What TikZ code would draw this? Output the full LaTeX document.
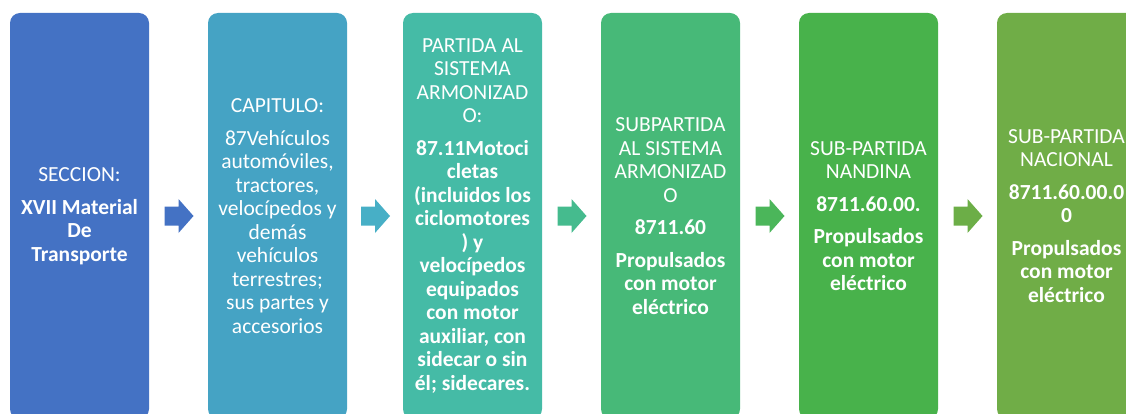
\documentclass[tikz,border=0pt]{standalone}
\usepackage{fontspec}
\setmainfont{Carlito}
\usetikzlibrary{calc}
\definecolor{c1}{HTML}{4472C4}
\definecolor{c2}{HTML}{45A3C4}
\definecolor{c3}{HTML}{45BBA6}
\definecolor{c4}{HTML}{47B978}
\definecolor{c5}{HTML}{48B24B}
\definecolor{c6}{HTML}{70AD47}
\definecolor{a1}{HTML}{4472C4}
\definecolor{a2}{HTML}{47AFC6}
\definecolor{a3}{HTML}{45BB8E}
\definecolor{a4}{HTML}{4BB65A}
\definecolor{a5}{HTML}{6CAE47}
\tikzset{
  box/.style={rounded corners=10pt, minimum width=139pt, minimum height=406pt,
    inner sep=1pt, text width=137pt, align=flush center, text=white,
    font=\fontsize{21.5}{23.5}\selectfont}
}
\newcommand{\blockarrow}[2]{%
  \fill[#2] (#1) ++(-14.5,-9.5) -- ++(14,0) -- ++(0,-7.5) -- ++(15,17)
    -- ++(-15,17) -- ++(0,-7.5) -- ++(-14,0) -- cycle;}
\begin{document}
\begin{tikzpicture}[x=1pt,y=-1pt]
\useasboundingbox (0,0) rectangle (1126,414);
\clip (0,0) rectangle (1126,414);
\node[box, fill=c1] (b1) at (79.5,216) {SECCION:\\[9pt]\bfseries XVII Material\\De\\Transporte};
\node[box, fill=c2] (b2) at (277.5,216) {CAPITULO:\\[9pt]87Vehículos\\automóviles,\\tractores,\\velocípedos y\\demás\\vehículos\\terrestres;\\sus partes y\\accesorios};
\node[box, fill=c3] (b3) at (472.5,216) {PARTIDA AL\\SISTEMA\\ARMONIZAD\\O:\\[9pt]\bfseries 87.11Motoci\\cletas\\(incluidos los\\ciclomotores\\) y\\velocípedos\\equipados\\con motor\\auxiliar, con\\sidecar o sin\\él; sidecares.};
\node[box, fill=c4] (b4) at (670.5,216) {SUBPARTIDA\\AL SISTEMA\\ARMONIZAD\\O\\[9pt]\bfseries 8711.60\\[9pt]Propulsados\\con motor\\eléctrico};
\node[box, fill=c5] (b5) at (868.5,216) {SUB-PARTIDA\\NANDINA\\[9pt]\bfseries 8711.60.00.\\[9pt]Propulsados\\con motor\\eléctrico};
\node[box, fill=c6] (b6) at (1066.5,216) {SUB-PARTIDA\\NACIONAL\\[9pt]\bfseries 8711.60.00.0\\0\\[9pt]Propulsados\\con motor\\eléctrico};
\coordinate (m1) at ($(b1.east)!0.5!(b2.west)+(0.5,0)$);
\coordinate (m2) at ($(b2.east)!0.5!(b3.west)+(0.5,0)$);
\coordinate (m3) at ($(b3.east)!0.5!(b4.west)+(0.5,0)$);
\coordinate (m4) at ($(b4.east)!0.5!(b5.west)+(0.5,0)$);
\coordinate (m5) at ($(b5.east)!0.5!(b6.west)+(0.5,0)$);
\blockarrow{m1}{a1}
\blockarrow{m2}{a2}
\blockarrow{m3}{a3}
\blockarrow{m4}{a4}
\blockarrow{m5}{a5}
\end{tikzpicture}
\end{document}
